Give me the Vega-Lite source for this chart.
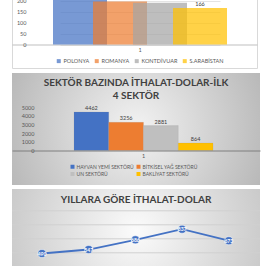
{
  "$schema": "https://vega.github.io/schema/vega-lite/v6.json",
  "background": "white",
  "padding": {"left": 11, "top": -3, "right": 0, "bottom": 0},
  "spacing": 4,
  "config": {
    "font": "Lato",
    "view": {"stroke": null},
    "axis": {"labelFont": "Lato", "titleFont": "Lato", "labelOverlap": false},
    "legend": {"labelFont": "Lato"},
    "text": {"font": "Lato"},
    "title": {"font": "Lato"}
  },
  "resolve": {"scale": {"color": "independent", "x": "independent", "y": "independent"}, "legend": {"color": "independent"}},
  "vconcat": [
    {
      "width": 245,
      "height": 70,
      "view": {"fill": "white", "stroke": "#d9d9d9", "strokeWidth": 1},
      "data": {"values": [
        {"ulke": "POLONYA", "deger": 225, "grup": "1"},
        {"ulke": "ROMANYA", "deger": 195, "grup": "1"},
        {"ulke": "KONTDİVUAR", "deger": 190, "grup": "1"},
        {"ulke": "S.ARABİSTAN", "deger": 166, "grup": "1"}
      ]},
      "resolve": {"scale": {"x": "independent"}, "axis": {"x": "independent"}},
      "layer": [
        {
          "mark": {"type": "bar", "width": {"band": 1.35}, "fillOpacity": 0.72, "clip": true},
          "encoding": {
            "x": {"field": "ulke", "type": "nominal", "sort": null,
              "scale": {"domain": ["POLONYA", "ROMANYA", "KONTDİVUAR", "S.ARABİSTAN"], "range": [48, 208], "paddingInner": 0, "paddingOuter": 0},
              "axis": null},
            "y": {"field": "deger", "type": "quantitative",
              "scale": {"domain": [-106.8, 211.4], "nice": false, "zero": false},
              "axis": {"title": null, "values": [0, 50, 100, 150, 200], "format": "d", "labelOverlap": false, "offset": -16, "domain": false, "ticks": false, "labelPadding": 2, "grid": true, "gridColor": "#e4e4e4", "labelFontSize": 5.5, "labelColor": "#595959"}},
            "color": {"field": "ulke", "type": "nominal", "sort": null,
              "scale": {"domain": ["POLONYA", "ROMANYA", "KONTDİVUAR", "S.ARABİSTAN"], "range": ["#4472C4", "#ED7D31", "#A5A5A5", "#FFC000"]},
              "legend": {"title": null, "orient": "none", "legendX": 44, "legendY": 60, "direction": "horizontal", "symbolType": "square", "symbolSize": 16, "symbolOpacity": 0.72, "symbolStrokeWidth": 0, "labelFontSize": 5.5, "labelColor": "#595959", "columnPadding": 4, "labelOffset": 2}}
          }
        },
        {
          "transform": [{"filter": "datum.deger < 180"}],
          "mark": {"type": "text", "dy": -4, "clip": true, "fontSize": 5.5, "color": "#404040"},
          "encoding": {
            "x": {"field": "ulke", "type": "nominal", "sort": null,
              "scale": {"domain": ["POLONYA", "ROMANYA", "KONTDİVUAR", "S.ARABİSTAN"], "range": [48, 208], "paddingInner": 0, "paddingOuter": 0},
              "axis": null},
            "y": {"field": "deger", "type": "quantitative",
              "scale": {"domain": [-106.8, 211.4], "nice": false, "zero": false},
              "axis": {"title": null, "values": [0, 50, 100, 150, 200], "format": "d", "labelOverlap": false, "offset": -16, "domain": false, "ticks": false, "labelPadding": 2, "grid": true, "gridColor": "#e4e4e4", "labelFontSize": 5.5, "labelColor": "#595959"}},
            "text": {"field": "deger", "type": "quantitative"}
          }
        },
        {
          "mark": {"type": "rule", "strokeOpacity": 0},
          "encoding": {
            "x": {"field": "grup", "type": "nominal",
              "scale": {"paddingInner": 0, "paddingOuter": 0.2656, "align": 0.565},
              "axis": {"title": null, "orient": "bottom", "offset": -23.5, "labelAngle": 0, "ticks": false, "labelPadding": 3, "domainColor": "#bfbfbf", "labelFontSize": 5.5, "labelColor": "#595959", "grid": false}}
          }
        }
      ]
    },
    {
      "width": 248,
      "height": 112,
      "title": {"text": ["SEKTÖR BAZINDA İTHALAT-DOLAR-İLK", "4 SEKTÖR"], "fontSize": 10, "fontWeight": "bold", "color": "#404040", "anchor": "middle", "frame": "group", "offset": -27.5, "lineHeight": 12.5},
      "data": {"values": [
        {"sektor": "HAYVAN YEMİ SEKTÖRÜ", "dolar": 4462, "grup": "1"},
        {"sektor": "BİTKİSEL YAĞ SEKTÖRÜ", "dolar": 3256, "grup": "1"},
        {"sektor": "UN SEKTÖRÜ", "dolar": 2881, "grup": "1"},
        {"sektor": "BAKLİYAT SEKTÖRÜ", "dolar": 864, "grup": "1"}
      ]},
      "resolve": {"scale": {"x": "independent"}, "axis": {"x": "independent"}},
      "layer": [
        {
          "data": {"values": [{}]},
          "mark": {"type": "rect", "fill": {"gradient": "radial", "x1": 0.5, "y1": 0.5, "r1": 0, "x2": 0.5, "y2": 0.5, "r2": 0.7, "stops": [{"offset": 0, "color": "#f3f3f3"}, {"offset": 1, "color": "#a8a8a8"}]}},
          "encoding": {"x": {"value": 0}, "x2": {"value": "width"}, "y": {"value": 0}, "y2": {"value": "height"}}
        },
        {
          "mark": {"type": "bar", "width": {"band": 1}, "stroke": "#8a8a8a", "strokeWidth": 0.3, "strokeOpacity": 0.5},
          "encoding": {
            "x": {"field": "sektor", "type": "nominal", "sort": null,
              "scale": {"domain": ["HAYVAN YEMİ SEKTÖRÜ", "BİTKİSEL YAĞ SEKTÖRÜ", "UN SEKTÖRÜ", "BAKLİYAT SEKTÖRÜ"], "range": [62, 201], "paddingInner": 0, "paddingOuter": 0},
              "axis": null},
            "y": {"field": "dolar", "type": "quantitative",
              "scale": {"domain": [-3988, 8960], "nice": false, "zero": false},
              "axis": {"title": null, "values": [0, 1000, 2000, 3000, 4000, 5000], "format": "d", "labelOverlap": false, "zindex": 1, "offset": -24, "domain": false, "ticks": false, "labelPadding": 2, "grid": false, "labelFontSize": 5.5, "labelColor": "#595959"}},
            "color": {"field": "sektor", "type": "nominal", "sort": null,
              "scale": {"domain": ["HAYVAN YEMİ SEKTÖRÜ", "BİTKİSEL YAĞ SEKTÖRÜ", "UN SEKTÖRÜ", "BAKLİYAT SEKTÖRÜ"], "range": ["#4472C4", "#ED7D31", "#BFBFBF", "#FFC000"]},
              "legend": {"title": null, "orient": "none", "legendX": 58, "legendY": 91, "columns": 2, "direction": "horizontal", "symbolType": "square", "symbolSize": 16, "symbolStrokeWidth": 0, "labelFontSize": 5, "labelColor": "#595959", "columnPadding": 2, "rowPadding": 1.5, "labelOffset": 1.5}}
          }
        },
        {
          "mark": {"type": "text", "dy": -4, "fontSize": 5.5, "color": "#404040"},
          "encoding": {
            "x": {"field": "sektor", "type": "nominal", "sort": null,
              "scale": {"domain": ["HAYVAN YEMİ SEKTÖRÜ", "BİTKİSEL YAĞ SEKTÖRÜ", "UN SEKTÖRÜ", "BAKLİYAT SEKTÖRÜ"], "range": [62, 201], "paddingInner": 0, "paddingOuter": 0},
              "axis": null},
            "y": {"field": "dolar", "type": "quantitative",
              "scale": {"domain": [-3988, 8960], "nice": false, "zero": false},
              "axis": {"title": null, "values": [0, 1000, 2000, 3000, 4000, 5000], "format": "d", "labelOverlap": false, "zindex": 1, "offset": -24, "domain": false, "ticks": false, "labelPadding": 2, "grid": false, "labelFontSize": 5.5, "labelColor": "#595959"}},
            "text": {"field": "dolar", "type": "quantitative"}
          }
        },
        {
          "mark": {"type": "rule", "strokeOpacity": 0},
          "encoding": {
            "x": {"field": "grup", "type": "nominal",
              "scale": {"paddingInner": 0, "paddingOuter": 0.392, "align": 0.569},
              "axis": {"title": null, "orient": "bottom", "zindex": 1, "offset": -34.5, "labelAngle": 0, "ticks": false, "labelPadding": 3, "domainColor": "#7f7f7f", "labelFontSize": 5.5, "labelColor": "#595959", "grid": false}}
          }
        }
      ]
    },
    {
      "width": 248,
      "height": 84,
      "title": {"text": "YILLARA GÖRE İTHALAT-DOLAR", "fontSize": 10, "fontWeight": "bold", "color": "#404040", "anchor": "middle", "frame": "group", "offset": -16},
      "data": {"values": [
        {"yil": "1", "dolar": 490},
        {"yil": "2", "dolar": 547},
        {"yil": "3", "dolar": 686},
        {"yil": "4", "dolar": 837},
        {"yil": "5", "dolar": 673}
      ]},
      "layer": [
        {
          "data": {"values": [{}]},
          "mark": {"type": "rect", "fill": {"gradient": "radial", "x1": 0.5, "y1": 0.5, "r1": 0, "x2": 0.5, "y2": 0.5, "r2": 0.72, "stops": [{"offset": 0, "color": "#fbfbfb"}, {"offset": 1, "color": "#b8b8b8"}]}},
          "encoding": {"x": {"value": 0}, "x2": {"value": "width"}, "y": {"value": 0}, "y2": {"value": "height"}}
        },
        {
          "data": {"values": [{"izgara": 300}, {"izgara": 500}, {"izgara": 700}, {"izgara": 900}, {"izgara": 1100}]},
          "mark": {"type": "rule", "color": "#d0d0d0", "strokeWidth": 1},
          "encoding": {
            "y": {"field": "izgara", "type": "quantitative", "scale": {"domain": [211.5, 1411.5], "nice": false, "zero": false}, "axis": null}
          }
        },
        {
          "mark": {"type": "line", "color": "#4472C4", "strokeWidth": 1.8},
          "encoding": {
            "x": {"field": "yil", "type": "ordinal", "scale": {"type": "point", "padding": 0.655, "align": 0.49}, "axis": null},
            "y": {"field": "dolar", "type": "quantitative", "scale": {"domain": [211.5, 1411.5], "nice": false, "zero": false}, "axis": null}
          }
        },
        {
          "mark": {"type": "point", "filled": true, "size": 65, "color": "#4472C4", "opacity": 1, "stroke": "white", "strokeWidth": 0.5},
          "encoding": {
            "x": {"field": "yil", "type": "ordinal"},
            "y": {"field": "dolar", "type": "quantitative"}
          }
        },
        {
          "mark": {"type": "text", "fontSize": 5, "fontWeight": "bold", "color": "white"},
          "encoding": {
            "x": {"field": "yil", "type": "ordinal"},
            "y": {"field": "dolar", "type": "quantitative"},
            "text": {"field": "dolar", "type": "quantitative"}
          }
        }
      ]
    }
  ]
}
